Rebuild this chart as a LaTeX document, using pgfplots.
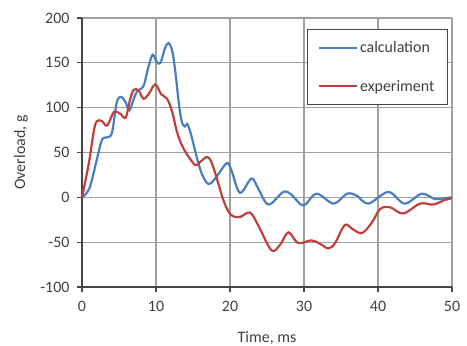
\documentclass[border=0pt]{standalone}
\usepackage{fontspec}
\setmainfont{Carlito}
\usepackage{pgfplots}
\pgfplotsset{compat=1.18}
\definecolor{calcblue}{RGB}{74,126,193}
\definecolor{expred}{RGB}{192,64,62}
\definecolor{gridgray}{RGB}{160,160,160}
\definecolor{axisgray}{RGB}{70,70,70}
\definecolor{textgray}{RGB}{64,64,64}
\begin{document}
\begin{tikzpicture}
\path[use as bounding box] (-82bp,-59bp) rectangle (385bp,287bp);
\begin{axis}[
  at={(0,0)}, anchor=south west,
  scale only axis,
  width=370bp, height=269bp,
  xmin=0, xmax=50, ymin=-100, ymax=200,
  xtick={0,10,20,30,40,50},
  ytick={-100,-50,0,50,100,150,200},
  grid=major,
  grid style={gridgray, line width=1.2bp},
  axis x line*=bottom, axis y line*=left,
  axis line style={axisgray, line width=1.4bp, -},
  tick align=outside,
  major tick length=5bp,
  tick style={axisgray, line width=1.2bp},
  /pgf/number format/assume math mode=true,
  ticklabel style={font=\fontsize{16}{19}\selectfont, text=textgray},
  xticklabel style={yshift=-6bp},
  yticklabel style={xshift=-4bp},
  label style={font=\fontsize{16}{19}\selectfont, text=textgray},
  xlabel={Time, ms},
  ylabel={Overload, g},
  xlabel style={at={(axis description cs:0.5,-0.208)}, anchor=base},
  ylabel style={at={(axis description cs:-0.154,0.5)}, anchor=base},
  legend style={at={(0.989,0.959)}, anchor=north east,
    draw=axisgray, line width=1bp, fill=white,
    font=\fontsize{16}{19}\selectfont, text=textgray,
    inner xsep=11bp, inner ysep=10bp, row sep=22bp,
    cells={anchor=west}},
  legend image code/.code={\draw[#1, line width=1.6bp] (0bp,0bp) -- (38bp,0bp);},
]
\addplot[calcblue, line width=2.2bp, smooth, tension=0.55] coordinates {
(0,0) (1.0,10) (2.0,42) (2.7,64) (3.4,67) (4.05,72) (4.7,106) (5.3,112)
(5.9,106) (6.4,97) (7.0,110) (7.5,119) (8.3,124) (9.0,146) (9.55,159)
(10.1,151) (10.6,150) (11.2,166) (11.7,172) (12.2,163) (12.6,141) (13.1,104)
(13.5,84) (13.9,79) (14.2,82) (14.6,74) (15.05,60) (15.5,45) (16.2,26)
(17.07,15) (18.0,21) (19.55,38) (20.2,30) (21.35,5) (22.9,21) (23.8,10)
(25.2,-8) (27.2,6) (28.3,3) (29.9,-9) (31.7,4) (34.0,-7) (35.8,4) (37.1,2)
(38.7,-7) (41.4,6) (43.6,-7) (45.9,4) (47.7,-2) (49,-1) (50,0)
};
\addlegendentry{calculation}
\addplot[expred, line width=2.2bp, smooth, tension=0.55] coordinates {
(0,0) (0.9,37) (1.6,74) (2.0,85) (2.7,85) (3.4,80) (4.3,95) (5.2,93)
(5.9,89) (6.5,109) (7.0,120) (7.66,119) (8.3,110) (9.0,115) (9.9,126)
(10.7,115) (11.5,110) (12.2,95) (12.8,74) (13.4,60) (14.1,49) (15.3,36)
(15.9,39) (16.85,45) (17.4,41) (18.0,27) (19.1,-3) (19.8,-16) (20.4,-21)
(21.35,-22) (22.7,-17) (23.8,-31) (25.6,-59) (26.76,-53) (27.9,-39)
(29.2,-51) (31.0,-48) (32.2,-52) (33.3,-57) (34.2,-51) (35.5,-31) (36.5,-35)
(37.8,-40) (39.1,-29) (40.3,-13) (41.6,-11) (43.4,-18) (45.7,-7) (47.5,-8)
(49,-3) (50,-1)
};
\addlegendentry{experiment}
\end{axis}
\end{tikzpicture}
\end{document}
